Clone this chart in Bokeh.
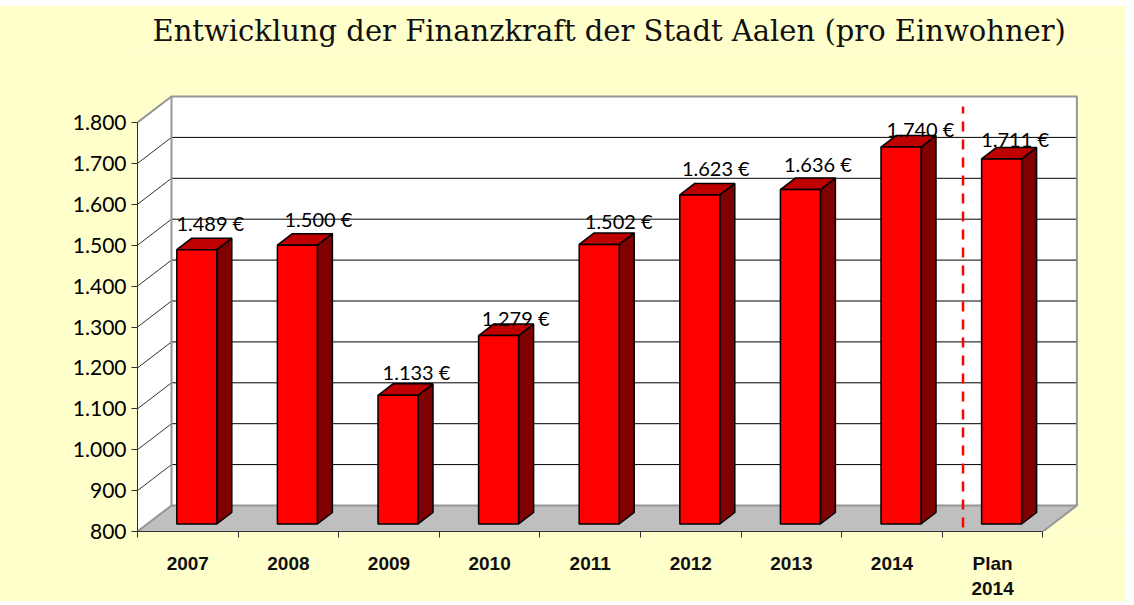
from bokeh.plotting import figure
from bokeh.models import FixedTicker, Range1d, ColumnDataSource, BoxAnnotation
from bokeh.core.properties import value
from bokeh.embed import file_html
from bokeh.resources import INLINE

categories = ["2007", "2008", "2009", "2010", "2011", "2012", "2013", "2014", "Plan\n2014"]
values = [1489, 1500, 1133, 1279, 1502, 1623, 1636, 1740, 1711]
value_labels = ["1.489 €", "1.500 €", "1.133 €", "1.279 €", "1.502 €", "1.623 €", "1.636 €", "1.740 €", "1.711 €"]
y_ticks = [800, 900, 1000, 1100, 1200, 1300, 1400, 1500, 1600, 1700, 1800]
y_tick_labels = ["800", "900", "1.000", "1.100", "1.200", "1.300", "1.400", "1.500", "1.600", "1.700", "1.800"]
title_text = "Entwicklung der Finanzkraft der Stadt Aalen (pro Einwohner)"

# layout in pixels
PX_X = 100.6      # pixels per category
PX_Y = 0.409      # pixels per value unit
FRAME_W, FRAME_H = 989, 479
YMIN, YMAX = 800, 1800
n = len(categories)
DX, DY = 34 / PX_X, 26 / PX_Y                # wall depth
BAR_OFF_X, BAR_OFF_Y = 39.3 / PX_X, 7.5 / PX_Y
BAR_W = 40 / PX_X
BAR_DX, BAR_DY = 15 / PX_X, 11.5 / PX_Y
nudge_x = [13.5, 21, 18.5, 17, 19.5, 16, 17.5, 19.5, 13.5]
nudge_y = [27, 26, 23, 18, 23, 27, 26, 18, 20]

p = figure(frame_width=FRAME_W, frame_height=FRAME_H, toolbar_location=None, output_backend="svg",
           x_range=Range1d(0, FRAME_W / PX_X), y_range=Range1d(YMIN, YMIN + FRAME_H / PX_Y),
           min_border_left=138, min_border_right=0, min_border_top=47, min_border_bottom=66,
           border_fill_color="#ffffcc", background_fill_color="#ffffcc", outline_line_color=None,
           margin=(5, 0, -8, -1), title=title_text)
p.grid.visible = False

p.title.text_font = "DejaVu Serif"
p.title.text_font_size = "29px"
p.title.text_font_style = "normal"
p.title.text_color = "#111111"
p.title.align = "left"
p.title.offset = 15

# chart frame
p.add_layout(BoxAnnotation(left=0, right=3000, top=0, bottom=3000, left_units="canvas", right_units="canvas",
                           top_units="canvas", bottom_units="canvas", fill_alpha=0, line_color="#404040",
                           line_width=3, level="overlay"))

# walls and floor
p.patch([0, DX, DX, 0], [YMIN, YMIN + DY, YMAX + DY, YMAX], fill_color="white", line_color=None)
p.patch([DX, n + DX, n + DX, DX], [YMIN + DY, YMIN + DY, YMAX + DY, YMAX + DY], fill_color="white", line_color=None)
p.patch([0, n, n + DX, DX], [YMIN, YMIN, YMIN + DY, YMIN + DY], fill_color="#bfbfbf", line_color=None)

grid_values = y_ticks[1:-1]
p.multi_line([[0, DX] for _ in grid_values], [[v, v + DY] for v in grid_values], line_color="#303030", line_width=1)
p.multi_line([[DX, n + DX] for _ in grid_values], [[v + DY, v + DY] for v in grid_values], line_color="black", line_width=1)

wall_edges_x = [[0, DX, n + DX, n + DX, n], [DX, DX, n + DX], [0, DX]]
wall_edges_y = [[YMAX, YMAX + DY, YMAX + DY, YMIN + DY, YMIN], [YMAX + DY, YMIN + DY, YMIN + DY], [YMIN, YMIN + DY]]
p.multi_line(wall_edges_x, wall_edges_y, line_color="#969696", line_width=2)

# bars
lefts = [i + BAR_OFF_X for i in range(n)]
rights = [l + BAR_W for l in lefts]
base = YMIN + BAR_OFF_Y
tops = [v for v in values]
p.patches([[r, r + BAR_DX, r + BAR_DX, r] for r in rights],
          [[base, base + BAR_DY, t + BAR_DY, t] for t in tops],
          fill_color="#7f0000", line_color="black", line_width=1.5)
p.patches([[l, l + BAR_DX, r + BAR_DX, r] for l, r in zip(lefts, rights)],
          [[t, t + BAR_DY, t + BAR_DY, t] for t in tops],
          fill_color="#bf0000", line_color="black", line_width=1.5)
p.quad(left=lefts, right=rights, bottom=base, top=tops, fill_color="#ff0000", line_color="black", line_width=1.5)

# forecast separator
sep_x = (n - 1) + 0.206
p.line([sep_x, sep_x], [YMIN + 10, YMAX + 39], line_color="#ff0000", line_width=2.5, line_dash="10 8")

# value labels
src = ColumnDataSource(dict(x=[l + BAR_W / 2 for l in lefts], y=tops, t=value_labels, dx=nudge_x,
                            dy=[-d for d in nudge_y]))
p.text(x="x", y="y", text="t", x_offset="dx", y_offset="dy", source=src, text_align="center", text_baseline="middle",
       text_font=value("Lato"), text_font_size="20px", text_color="black")

# axes
ax = p.yaxis[0]
ax.bounds = (YMIN, YMAX)
ax.ticker = FixedTicker(ticks=y_ticks)
ax.major_label_overrides = dict(zip(y_ticks, y_tick_labels))
ax.major_label_text_font = "Lato"
ax.major_label_text_font_size = "21px"
ax.major_label_text_color = "black"
ax.major_label_standoff = 5
ax.major_tick_out = 6
ax.major_tick_in = 0
ax.minor_tick_out = 0
ax.minor_tick_in = 0
ax.axis_line_color = "#303030"
ax.major_tick_line_color = "#303030"

centers = [i + 0.5 for i in range(n)]
bx = p.xaxis[0]
bx.bounds = (0, n)
bx.ticker = FixedTicker(ticks=centers, minor_ticks=list(range(n + 1)))
bx.major_label_overrides = dict(zip(centers, categories))
bx.major_label_text_font = "Liberation Sans"
bx.major_label_text_font_style = "bold"
bx.major_label_text_font_size = "19px"
bx.major_label_text_color = "#111111"
bx.major_label_standoff = 15
bx.major_tick_out = 0
bx.major_tick_in = 0
bx.minor_tick_out = 6
bx.minor_tick_in = 0
bx.minor_tick_line_color = "#303030"
bx.axis_line_color = "#303030"

open("out.html", "w").write(file_html(p, INLINE))
